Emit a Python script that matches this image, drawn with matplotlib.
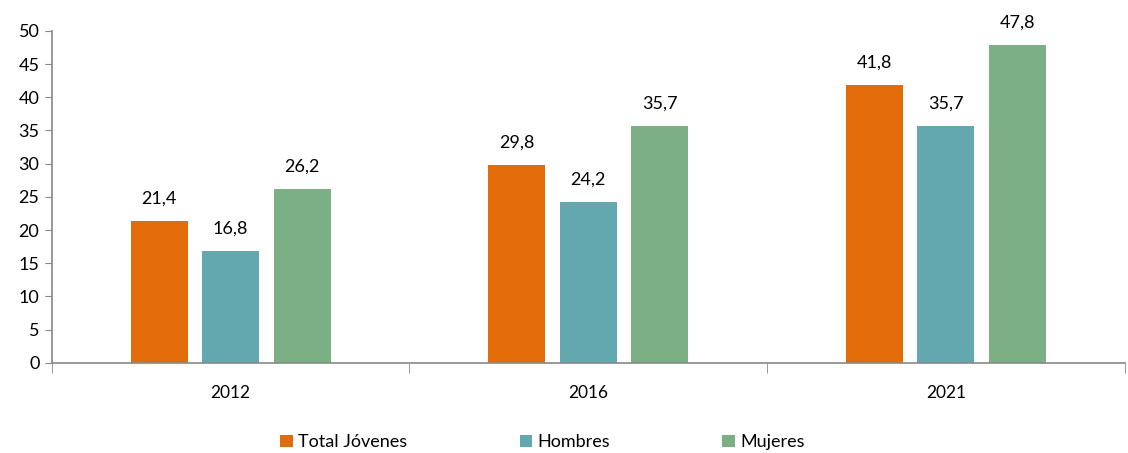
import matplotlib
matplotlib.use("Agg")
import matplotlib.pyplot as plt
import numpy as np

anios = ["2012", "2016", "2021"]
series = ["Total Jóvenes", "Hombres", "Mujeres"]
total_jovenes = [21.4, 29.8, 41.8]
hombres = [16.8, 24.2, 35.7]
mujeres = [26.2, 35.7, 47.8]
colores = ["#E36C0A", "#64A8AF", "#7BAF84"]

plt.rcParams['font.family'] = ['Lato', 'DejaVu Sans']

fig = plt.figure(figsize=(11.28, 4.53), dpi=100)
ax = fig.add_axes([0.046, 0.199, 0.951, 0.733])

x = np.arange(len(anios))
ancho = 0.16
desplazamientos = [-0.2, 0.0, 0.2]
for valores, nombre, color, d in zip([total_jovenes, hombres, mujeres], series, colores, desplazamientos):
    barras = ax.bar(x + d, valores, ancho, color=color, label=nombre)
    for b, v in zip(barras, valores):
        ax.text(b.get_x() + b.get_width() / 2, v + 2.2, f"{v:.1f}".replace(".", ","),
                ha="center", va="bottom", fontsize=13)

ax.set_xlim(-0.5, len(anios) - 0.5)
ax.set_ylim(0, 50)
ax.set_yticks(range(0, 51, 5))
ax.tick_params(axis="y", labelsize=13, length=5, color="#888888", pad=4)
ax.set_xticks(x)
ax.set_xticklabels(anios, fontsize=12.5)
ax.tick_params(axis="x", length=0, pad=16)
ax.set_xticks(np.arange(-0.5, len(anios), 1), minor=True)
ax.tick_params(axis="x", which="minor", length=7, color="#888888")

for s in ["top", "right"]:
    ax.spines[s].set_visible(False)
for s in ["left", "bottom"]:
    ax.spines[s].set_color("#888888")
    ax.spines[s].set_linewidth(1.2)

fig.legend(loc="lower center", bbox_to_anchor=(0.481, -0.03), ncol=3, frameon=False,
           fontsize=13, handlelength=0.7, handleheight=0.7, handletextpad=0.3,
           columnspacing=6.2)

fig.savefig("out.png", dpi=100)
